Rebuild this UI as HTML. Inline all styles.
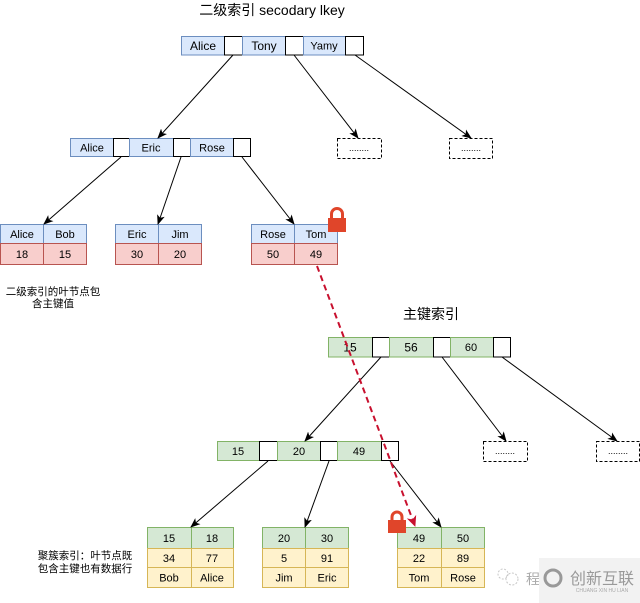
<!DOCTYPE html>
<html><head><meta charset="utf-8"><style>
html,body{margin:0;padding:0;background:#fff;}
svg{display:block;}
text{font-family:"Liberation Sans","Noto Sans CJK SC",sans-serif;fill:#000;}
</style></head><body>
<svg width="640" height="603" viewBox="0 0 640 603" xmlns="http://www.w3.org/2000/svg">
<defs>
<marker id="ah" markerWidth="10" markerHeight="10" refX="9" refY="5" orient="auto" markerUnits="userSpaceOnUse">
<path d="M0,1 L10,5 L0,9 L2.5,5 z" fill="#000"/>
</marker>
<marker id="ahr" markerWidth="12" markerHeight="12" refX="10" refY="6" orient="auto" markerUnits="userSpaceOnUse">
<path d="M0,1 L11,6 L0,11 L3,6 z" fill="#c8102e"/>
</marker>
</defs>

<!-- Titles -->
<text x="272" y="15" font-size="14" text-anchor="middle">二级索引 secodary lkey</text>
<text x="431" y="319" font-size="14" text-anchor="middle">主键索引</text>

<!-- Secondary root -->
<g stroke-width="1">
<rect x="181.5" y="36.5" width="43" height="18.5" fill="#dae8fc" stroke="#6c8ebf"/>
<rect x="224.5" y="36.5" width="18" height="18.5" fill="#fff" stroke="#000"/>
<rect x="242.5" y="36.5" width="43" height="18.5" fill="#dae8fc" stroke="#6c8ebf"/>
<rect x="285.5" y="36.5" width="18" height="18.5" fill="#fff" stroke="#000"/>
<rect x="303.5" y="36.5" width="42" height="18.5" fill="#dae8fc" stroke="#6c8ebf"/>
<rect x="345.5" y="36.5" width="18" height="18.5" fill="#fff" stroke="#000"/>
</g>
<text x="203" y="50" font-size="12" text-anchor="middle">Alice</text>
<text x="264" y="50" font-size="12" text-anchor="middle">Tony</text>
<text x="324" y="49.5" font-size="11" text-anchor="middle">Yamy</text>

<!-- Secondary level 2 -->
<g>
<rect x="70.5" y="138.5" width="43" height="18" fill="#dae8fc" stroke="#6c8ebf"/>
<rect x="113.5" y="138.5" width="16" height="18" fill="#fff" stroke="#000"/>
<rect x="129.5" y="138.5" width="44" height="18" fill="#dae8fc" stroke="#6c8ebf"/>
<rect x="173.5" y="138.5" width="17" height="18" fill="#fff" stroke="#000"/>
<rect x="190.5" y="138.5" width="43" height="18" fill="#dae8fc" stroke="#6c8ebf"/>
<rect x="233.5" y="138.5" width="17" height="18" fill="#fff" stroke="#000"/>
</g>
<text x="92" y="151.5" font-size="11" text-anchor="middle">Alice</text>
<text x="151" y="151.5" font-size="11" text-anchor="middle">Eric</text>
<text x="212" y="151.5" font-size="11" text-anchor="middle">Rose</text>

<!-- dashed boxes secondary -->
<rect x="337.5" y="138.5" width="44" height="20" fill="#fff" stroke="#000" stroke-dasharray="3,2"/>
<text x="359" y="151" font-size="9" text-anchor="middle">........</text>
<rect x="449.5" y="138.5" width="43" height="20" fill="#fff" stroke="#000" stroke-dasharray="3,2"/>
<text x="471" y="151" font-size="9" text-anchor="middle">........</text>

<!-- Secondary leaves -->
<g font-size="11">
<rect x="0.5" y="224.5" width="43" height="19" fill="#dae8fc" stroke="#6c8ebf"/>
<rect x="43.5" y="224.5" width="43" height="19" fill="#dae8fc" stroke="#6c8ebf"/>
<rect x="0.5" y="243.5" width="43" height="21" fill="#f8cecc" stroke="#b85450"/>
<rect x="43.5" y="243.5" width="43" height="21" fill="#f8cecc" stroke="#b85450"/>

<rect x="115.5" y="224.5" width="43" height="19" fill="#dae8fc" stroke="#6c8ebf"/>
<rect x="158.5" y="224.5" width="43" height="19" fill="#dae8fc" stroke="#6c8ebf"/>
<rect x="115.5" y="243.5" width="43" height="21" fill="#f8cecc" stroke="#b85450"/>
<rect x="158.5" y="243.5" width="43" height="21" fill="#f8cecc" stroke="#b85450"/>

<rect x="251.5" y="224.5" width="43" height="19" fill="#dae8fc" stroke="#6c8ebf"/>
<rect x="294.5" y="224.5" width="43" height="19" fill="#dae8fc" stroke="#6c8ebf"/>
<rect x="251.5" y="243.5" width="43" height="21" fill="#f8cecc" stroke="#b85450"/>
<rect x="294.5" y="243.5" width="43" height="21" fill="#f8cecc" stroke="#b85450"/>
</g>
<g font-size="11" text-anchor="middle">
<text x="22" y="238">Alice</text><text x="65" y="238">Bob</text>
<text x="22" y="258">18</text><text x="65" y="258">15</text>
<text x="137" y="238">Eric</text><text x="180" y="238">Jim</text>
<text x="137" y="258">30</text><text x="180" y="258">20</text>
<text x="273" y="238">Rose</text><text x="316" y="238">Tom</text>
<text x="273" y="258">50</text><text x="316" y="258">49</text>
</g>

<text x="53" y="295" font-size="10.5" text-anchor="middle">二级索引的叶节点包</text>
<text x="53" y="307" font-size="10.5" text-anchor="middle">含主键值</text>

<!-- Secondary arrows -->
<g stroke="#000" stroke-width="1" marker-end="url(#ah)">
<line x1="233" y1="55" x2="158" y2="138"/>
<line x1="294" y1="55" x2="358" y2="138"/>
<line x1="355" y1="55" x2="471" y2="138"/>
<line x1="121" y1="157" x2="44" y2="224"/>
<line x1="181" y1="157" x2="158" y2="224"/>
<line x1="242" y1="157" x2="294" y2="224"/>
</g>

<!-- Lock 1 -->
<path d="M331.5,219 V214 A5.5,5.5 0 0 1 342.5,214 V219" fill="none" stroke="#e0452a" stroke-width="3"/>
<rect x="328" y="218" width="18" height="14" fill="#e0452a"/>

<!-- Primary root -->
<g>
<rect x="328.5" y="337.5" width="44" height="19.5" fill="#d5e8d4" stroke="#82b366"/>
<rect x="372.5" y="337.5" width="17" height="19.5" fill="#fff" stroke="#000"/>
<rect x="389.5" y="337.5" width="44" height="19.5" fill="#d5e8d4" stroke="#82b366"/>
<rect x="433.5" y="337.5" width="17" height="19.5" fill="#fff" stroke="#000"/>
<rect x="450.5" y="337.5" width="43" height="19.5" fill="#d5e8d4" stroke="#82b366"/>
<rect x="493.5" y="337.5" width="17" height="19.5" fill="#fff" stroke="#000"/>
</g>
<text x="350" y="351.5" font-size="12" text-anchor="middle">15</text>
<text x="411" y="351.5" font-size="12" text-anchor="middle">56</text>
<text x="471" y="351" font-size="11" text-anchor="middle">60</text>

<!-- Primary level 2 -->
<g>
<rect x="217.5" y="441.5" width="42" height="19" fill="#d5e8d4" stroke="#82b366"/>
<rect x="259.5" y="441.5" width="18" height="19" fill="#fff" stroke="#000"/>
<rect x="277.5" y="441.5" width="43" height="19" fill="#d5e8d4" stroke="#82b366"/>
<rect x="320.5" y="441.5" width="17" height="19" fill="#fff" stroke="#000"/>
<rect x="337.5" y="441.5" width="44" height="19" fill="#d5e8d4" stroke="#82b366"/>
<rect x="381.5" y="441.5" width="17" height="19" fill="#fff" stroke="#000"/>
</g>
<text x="238" y="455" font-size="11" text-anchor="middle">15</text>
<text x="299" y="455" font-size="11" text-anchor="middle">20</text>
<text x="359" y="455" font-size="11" text-anchor="middle">49</text>

<!-- dashed boxes primary -->
<rect x="483.5" y="441.5" width="44" height="20" fill="#fff" stroke="#000" stroke-dasharray="3,2"/>
<text x="505" y="454" font-size="9" text-anchor="middle">........</text>
<rect x="596.5" y="441.5" width="43" height="20" fill="#fff" stroke="#000" stroke-dasharray="3,2"/>
<text x="618" y="454" font-size="9" text-anchor="middle">........</text>

<!-- Primary leaves -->
<g>
<rect x="147.5" y="527.5" width="44" height="21" fill="#d5e8d4" stroke="#82b366"/>
<rect x="191.5" y="527.5" width="42" height="21" fill="#d5e8d4" stroke="#82b366"/>
<rect x="147.5" y="548.5" width="44" height="19" fill="#fff2cc" stroke="#d6b656"/>
<rect x="191.5" y="548.5" width="42" height="19" fill="#fff2cc" stroke="#d6b656"/>
<rect x="147.5" y="567.5" width="44" height="20" fill="#fff2cc" stroke="#d6b656"/>
<rect x="191.5" y="567.5" width="42" height="20" fill="#fff2cc" stroke="#d6b656"/>

<rect x="262.5" y="527.5" width="43" height="21" fill="#d5e8d4" stroke="#82b366"/>
<rect x="305.5" y="527.5" width="43" height="21" fill="#d5e8d4" stroke="#82b366"/>
<rect x="262.5" y="548.5" width="43" height="19" fill="#fff2cc" stroke="#d6b656"/>
<rect x="305.5" y="548.5" width="43" height="19" fill="#fff2cc" stroke="#d6b656"/>
<rect x="262.5" y="567.5" width="43" height="20" fill="#fff2cc" stroke="#d6b656"/>
<rect x="305.5" y="567.5" width="43" height="20" fill="#fff2cc" stroke="#d6b656"/>

<rect x="397.5" y="527.5" width="44" height="21" fill="#d5e8d4" stroke="#82b366"/>
<rect x="441.5" y="527.5" width="43" height="21" fill="#d5e8d4" stroke="#82b366"/>
<rect x="397.5" y="548.5" width="44" height="19" fill="#fff2cc" stroke="#d6b656"/>
<rect x="441.5" y="548.5" width="43" height="19" fill="#fff2cc" stroke="#d6b656"/>
<rect x="397.5" y="567.5" width="44" height="20" fill="#fff2cc" stroke="#d6b656"/>
<rect x="441.5" y="567.5" width="43" height="20" fill="#fff2cc" stroke="#d6b656"/>
</g>
<g font-size="11" text-anchor="middle">
<text x="169" y="542">15</text><text x="212" y="542">18</text>
<text x="169" y="562">34</text><text x="212" y="562">77</text>
<text x="169" y="581.5">Bob</text><text x="212" y="581.5">Alice</text>
<text x="284" y="542">20</text><text x="327" y="542">30</text>
<text x="284" y="562">5</text><text x="327" y="562">91</text>
<text x="284" y="581.5">Jim</text><text x="327" y="581.5">Eric</text>
<text x="419" y="542">49</text><text x="463" y="542">50</text>
<text x="419" y="562">22</text><text x="463" y="562">89</text>
<text x="419" y="581.5">Tom</text><text x="463" y="581.5">Rose</text>
</g>

<text x="85" y="559" font-size="10.5" text-anchor="middle">聚簇索引：叶节点既</text>
<text x="85" y="572" font-size="10.5" text-anchor="middle">包含主键也有数据行</text>

<!-- Primary arrows -->
<g stroke="#000" stroke-width="1" marker-end="url(#ah)">
<line x1="381" y1="357" x2="305" y2="441"/>
<line x1="442" y1="357" x2="506" y2="441"/>
<line x1="502" y1="357" x2="617" y2="441"/>
<line x1="268" y1="461" x2="191" y2="527"/>
<line x1="329" y1="461" x2="305" y2="527"/>
<line x1="390" y1="461" x2="441" y2="527"/>
</g>

<!-- red dashed arrow -->
<line x1="317" y1="266" x2="415" y2="526" stroke="#c8102e" stroke-width="2" stroke-dasharray="6,4" marker-end="url(#ahr)"/>

<!-- Lock 2 -->
<path d="M392,522 V517 A5,5 0 0 1 402,517 V522" fill="none" stroke="#e0452a" stroke-width="3"/>
<rect x="388" y="520" width="18" height="13" fill="#e0452a"/>

<!-- watermark -->
<g opacity="0.8">
<circle cx="503" cy="574" r="5" fill="none" stroke="#bbb" stroke-dasharray="2,1.5"/>
<circle cx="512" cy="579" r="6" fill="none" stroke="#bbb" stroke-dasharray="2,1.5"/>
</g>
<text x="533" y="584" font-size="14" fill="#aaa" text-anchor="middle" style="fill:#aaa">程</text>
<rect x="539" y="558" width="101" height="45" fill="#f2f2f2"/>
<circle cx="553" cy="578" r="8" fill="none" stroke="#999" stroke-width="3"/>
<path d="M549,574 L557,582 M557,574 L549,582" stroke="#f2f2f2" stroke-width="2"/>
<text x="602" y="584" font-size="16" text-anchor="middle" style="fill:#999">创新互联</text>
<text x="602" y="592" font-size="5" text-anchor="middle" style="fill:#aaa">CHUANG XIN HU LIAN</text>
</svg>
</body></html>
